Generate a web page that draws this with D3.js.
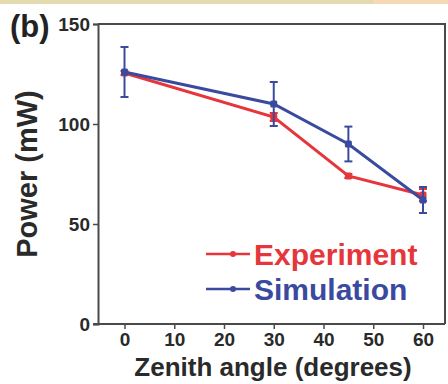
<!DOCTYPE html>
<html>
<head>
<meta charset="utf-8">
<script src="https://cdn.jsdelivr.net/npm/d3@7"></script>
<style>
  html, body { margin: 0; padding: 0; background: #fff; }
  svg { display: block; font-family: Arial, "Liberation Sans", sans-serif; }
</style>
</head>
<body>
<svg id="chart" width="448" height="384"></svg>
<script>
// ── Data ──
const angles = [0, 30, 45, 60];
const experiment = [125.5, 103.5, 74, 64.5];
const experimentErr = [1, 2, 1, 3];
const simulation = [126, 110, 90, 62];
const simulationErr = [12.5, 11, 8.7, 6.5];
const xTicks = [0, 10, 20, 30, 40, 50, 60];
const yTicks = [0, 50, 100, 150];

const RED = '#e6363c', BLUE = '#3a4a9f', AXIS = '#4a4a4a';
const FONT = 'Arial, "Liberation Sans", sans-serif';

const svg = d3.select('#chart');

// top strip (cropped neighbouring panel)
svg.append('rect').attr('x', 0).attr('y', 0).attr('width', 373).attr('height', 4).attr('fill', '#e4dab0');
svg.append('rect').attr('x', 373).attr('y', 0).attr('width', 75).attr('height', 4).attr('fill', '#f4d9b4');

const x = d3.scaleLinear().domain([0, 60]).range([124.5, 423]);
const y = d3.scaleLinear().domain([0, 150]).range([324, 24]);
const left = 98, right = 445;

// box
svg.append('path')
  .attr('d', `M${left},${y(150)}H${right}V${y(0)}`)
  .attr('fill', 'none').attr('stroke', AXIS).attr('stroke-width', 2);

// y axis
const yAxis = svg.append('g').attr('transform', `translate(${left},0)`)
  .call(d3.axisLeft(y).tickValues(yTicks).tickSize(5).tickPadding(3));
yAxis.select('.domain').attr('stroke', AXIS).attr('stroke-width', 2);
yAxis.selectAll('line').attr('stroke', AXIS).attr('stroke-width', 1.5);
yAxis.selectAll('text').attr('fill', '#2a2a2a').attr('font-size', '19px').attr('font-weight', 'bold')
  .attr('font-family', FONT);

// x axis
const xAxis = svg.append('g').attr('transform', `translate(0,${y(0)})`)
  .call(d3.axisBottom(x).tickValues(xTicks).tickSize(5).tickPadding(4));
xAxis.select('.domain').attr('d', `M${left - 5},0H${right}`).attr('stroke', AXIS).attr('stroke-width', 2);
xAxis.selectAll('line').attr('stroke', AXIS).attr('stroke-width', 1.5);
xAxis.selectAll('text').attr('fill', '#2a2a2a').attr('font-size', '19px').attr('font-weight', 'bold')
  .attr('font-family', FONT);

// labels
svg.append('text').attr('x', 10).attr('y', 37).text('(b)')
  .attr('font-size', '31px').attr('font-weight', 'bold').attr('fill', '#222');
svg.append('text').attr('x', 273).attr('y', 376).attr('text-anchor', 'middle')
  .text('Zenith angle (degrees)')
  .attr('font-size', '26px').attr('font-weight', 'bold').attr('fill', '#2a2a2a');
svg.append('text').attr('transform', 'translate(37,174) rotate(-90)').attr('text-anchor', 'middle')
  .text('Power (mW)')
  .attr('font-size', '29px').attr('font-weight', 'bold').attr('fill', '#2a2a2a');

// series
function drawSeries(vals, errs, color) {
  const pts = angles.map((a, i) => ({ a, v: vals[i], e: errs[i] }));
  const g = svg.append('g');
  g.selectAll('line.err').data(pts).join('line')
    .attr('x1', d => x(d.a)).attr('x2', d => x(d.a))
    .attr('y1', d => y(d.v + d.e)).attr('y2', d => y(d.v - d.e))
    .attr('stroke', color).attr('stroke-width', 2);
  [1, -1].forEach(s => {
    g.selectAll(null).data(pts).join('line')
      .attr('x1', d => x(d.a) - 4).attr('x2', d => x(d.a) + 4)
      .attr('y1', d => y(d.v + s * d.e)).attr('y2', d => y(d.v + s * d.e))
      .attr('stroke', color).attr('stroke-width', 2);
  });
  g.append('path').datum(pts)
    .attr('d', d3.line().x(d => x(d.a)).y(d => y(d.v)))
    .attr('fill', 'none').attr('stroke', color).attr('stroke-width', 3);
  g.selectAll('rect').data(pts).join('rect')
    .attr('x', d => x(d.a) - 3.5).attr('y', d => y(d.v) - 3.5)
    .attr('width', 7).attr('height', 7).attr('rx', 1.5).attr('fill', color);
}
drawSeries(experiment, experimentErr, RED);
drawSeries(simulation, simulationErr, BLUE);

// legend
const legend = [
  { name: 'Experiment', color: RED, y: 254 },
  { name: 'Simulation', color: BLUE, y: 289 }
];
legend.forEach(l => {
  svg.append('line').attr('x1', 206).attr('x2', 250).attr('y1', l.y).attr('y2', l.y)
    .attr('stroke', l.color).attr('stroke-width', 2.5);
  svg.append('circle').attr('cx', 233).attr('cy', l.y).attr('r', 3).attr('fill', l.color);
  svg.append('text').attr('x', 254).attr('y', l.y + 11).text(l.name)
    .attr('font-size', '30px').attr('font-weight', 'bold').attr('fill', l.color);
});
</script>
</body>
</html>
